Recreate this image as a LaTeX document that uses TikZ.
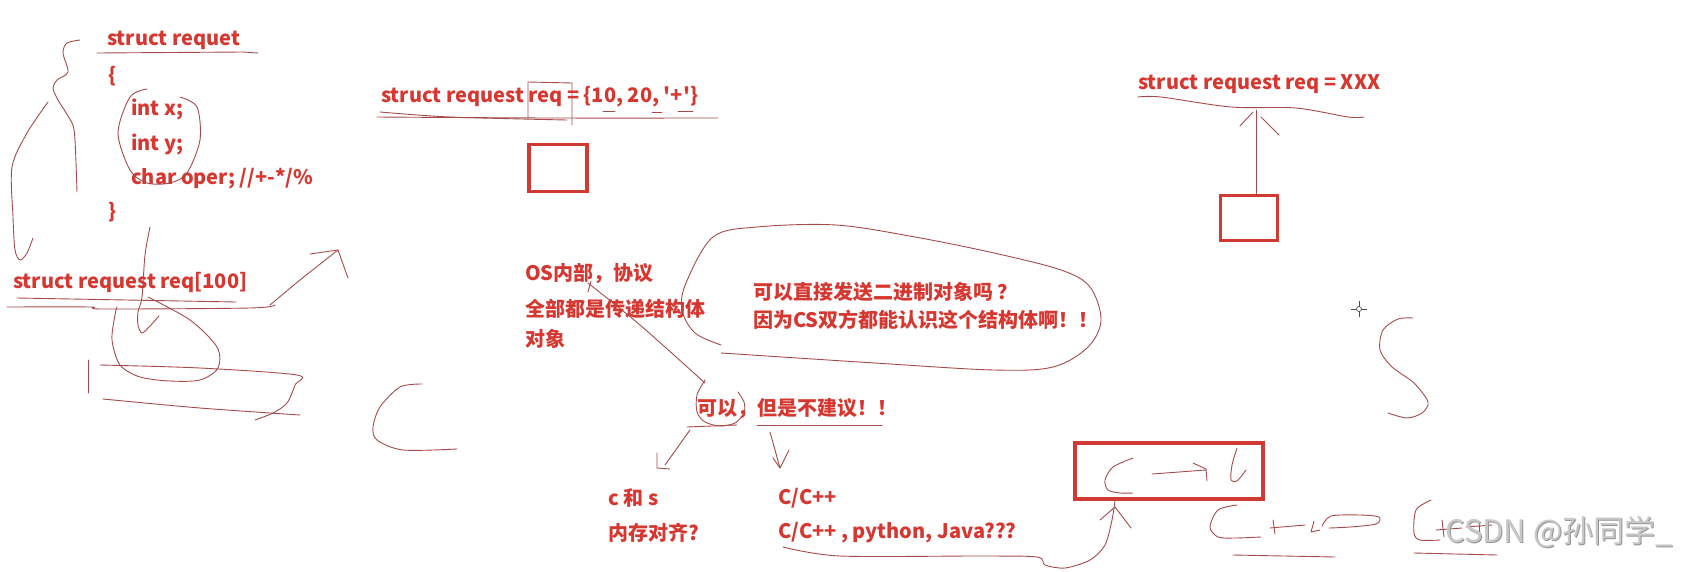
\documentclass[tikz,border=0pt]{standalone}
\usepackage{fontspec}
\setmainfont{Noto Sans CJK SC}[Ligatures=TeXOff]
\definecolor{tred}{RGB}{214,55,48}
\definecolor{inkc}{RGB}{165,75,75}
\definecolor{boxc}{RGB}{208,58,50}
\definecolor{wmc}{RGB}{200,200,200}
\definecolor{wmd}{RGB}{150,150,150}
\begin{document}
\begin{tikzpicture}[x=1pt,y=-1pt,
  txt/.style={anchor=west, inner sep=0pt, text=tred, font=\fontsize{20}{24}\selectfont\bfseries},
  wmk/.style={anchor=west, inner sep=0pt, font=\fontsize{31}{36}\selectfont},
  ink/.style={draw=inkc, line width=0.9pt, line cap=round, line join=round},
  rbox/.style={draw=boxc, line width=3.5pt, inner sep=0pt}]
\useasboundingbox[fill=white] (0,0) rectangle (1683,571);

% ---------- texts ----------
\node[txt] (t1) at (107,40) {struct requet};
\node[txt] (t2) at (108,76) {\{};
\node[txt] (t3) at (131,109) {int x;};
\node[txt] (t4) at (131,144) {int y;};
\node[txt] (t5) at (131,179) {char oper; //+-*/\%};
\node[txt] (t6) at (108,212) {\}};
\node[txt] (t7) at (13,282) {struct request req[100]};
\node[txt] (t8) at (381,97) {struct request req = \{10, 20, '+'\}};
\node[txt] (t9) at (1138,84) {struct request req = XXX};
\node[txt] (t10) at (525,273) {OS内部，协议};
\node[txt] (t11) at (525,309) {全部都是传递结构体};
\node[txt] (t12) at (525,339) {对象};
\node[txt] (t13) at (753,292) {可以直接发送二进制对象吗 ？};
\node[txt] (t14) at (753,320) {因为CS双方都能认识这个结构体啊！！};
\node[txt] (t15) at (697,408) {可以，但是不建议！！};
\node[txt] (t16) at (608,498) {c 和 s};
\node[txt] (t17) at (608,533) {内存对齐?};
\node[txt] (t18) at (778,498) {C/C++};
\node[txt] (t19) at (778,533) {C/C++ , python, Java???};

% ---------- red boxes ----------
\node[rbox, minimum width=58pt, minimum height=47pt] (b1) at (558,168) {};
\node[rbox, minimum width=57pt, minimum height=45pt] (b2) at (1249,218) {};
\node[rbox, minimum width=188pt, minimum height=56pt] (b3) at (1169,471) {};

% ---------- left strokes ----------
\draw[ink] (97,53) -- (243,52) -- (258,53);
\draw[ink] plot[smooth] coordinates {(80,40) (67,43) (63,53) (68,72) (57,80) (53,88) (58,100) (72,123) (75,140) (77,192)};
\draw[ink] plot[smooth] coordinates {(48,102) (27,133) (12,167) (13,217) (15,250) (20,260) (27,253) (33,238)};
\draw[ink] plot[smooth] coordinates {(147,89) (130,97) (118,133) (130,170) (147,183) (170,183) (187,173) (200,140) (197,107) (180,97)};
\draw[ink] plot[smooth] coordinates {(150,227) (145,255) (142,297) (138,312) (138,325) (142,333) (150,326) (159,316)};
\draw[ink] (17,298) -- (236,302);
\draw[ink] plot[smooth] coordinates {(7,307) (90,307) (103,309) (250,308) (275,305)};
\coordinate (a1) at (338,250);
\draw[ink] plot[smooth] coordinates {(270,305) (300,280) (338,250)};
\draw[ink] (310,254) -- (a1) -- (348,278);
\draw[ink] plot[smooth] coordinates {(148,297) (190,320) (217,347) (218,368) (200,380) (170,381) (140,377) (120,365) (112,340) (115,315) (117,307)};
\draw[ink] (88,360) -- (88,393);
\draw[ink] plot[smooth] coordinates {(100,365) (200,368) (297,375) (295,385) (287,403) (273,413) (255,420)};
\draw[ink] plot[smooth] coordinates {(103,399) (200,408) (300,415)};
\draw[ink] plot[smooth] coordinates {(422,384) (400,387) (380,407) (373,427) (377,440) (403,450) (457,449)};

% ---------- middle top strokes ----------
\draw[ink] (528,118) -- (528,82) -- (572,83) -- (572,125);
\draw[ink] plot[smooth] coordinates {(377,117) (550,118) (718,118)};
\draw[ink] plot[smooth] coordinates {(380,112) (450,117) (567,120)};
\draw[ink] (603,111) -- (615,111);
\draw[ink] (652,112) -- (662,112);
\draw[ink] (678,111) -- (693,111);

% ---------- middle strokes ----------
\draw[ink] (591,281) -- (588,292);
\draw[ink] plot[smooth] coordinates {(588,283) (640,325) (705,383)};
\draw[ink] plot[smooth] coordinates {(705,380) (697,395) (697,412) (705,422) (720,426) (735,423) (744,413) (744,402) (738,392)};
\draw[ink] plot[smooth, tension=0.55] coordinates {(721,353) (875,363) (994,370) (1053,367) (1088,347) (1101,320) (1090,287) (1061,270) (994,253) (915,237) (836,225) (757,227) (713,237) (686,283) (682,310) (695,333) (721,345)};
\draw[ink] (687,427) -- (737,425);
\draw[ink] (757,425) -- (882,425);
\coordinate (a2) at (665,465);
\draw[ink] (690,430) -- (a2);
\draw[ink] (657,453) -- (657,468) -- (670,469);
\coordinate (a3) at (780,468);
\draw[ink] (770,432) -- (a3);
\draw[ink] (773,458) -- (a3) -- (789,450);

% ---------- line under Java to big box ----------
\draw[ink] plot[smooth] coordinates {(783,547) (840,556) (980,556) (1037,557) (1045,565) (1065,568) (1090,560) (1105,545) (1112,520) (b3.south -| 1115,0)};
\draw[ink] (1100,520) -- (1115,507) -- (1131,528);

% ---------- inside big box ----------
\draw[ink] plot[smooth] coordinates {(1133,458) (1113,467) (1105,480) (1108,490) (1120,493) (1133,493)};
\draw[ink] (1152,474) -- (1206,470);
\draw[ink] (1193,463) -- (1206,469) -- (1207,481);
\draw[ink] plot[smooth] coordinates {(1237,448) (1232,465) (1231,480) (1237,481) (1246,470)};

% ---------- bottom right scribbles ----------
\draw[ink] plot[smooth] coordinates {(1237,505) (1218,510) (1210,527) (1218,537) (1235,538) (1261,537)};
\draw[ink] (1273,520) -- (1275,534);
\draw[ink] (1270,528) -- (1305,525);
\draw[ink] (1314,521) -- (1311,532) -- (1320,530);
\draw[ink] plot[smooth] coordinates {(1322,526) (1331,516) (1360,515) (1379,517) (1376,524) (1350,527) (1329,528)};
\draw[ink] (1233,555) -- (1335,557);
\draw[ink] plot[smooth] coordinates {(1431,500) (1416,510) (1414,533) (1420,540) (1440,540)};
\draw[ink] (1442,520) -- (1444,537);
\draw[ink] (1436,530) -- (1462,528);
\draw[ink] (1479,521) -- (1480,537);
\draw[ink] (1466,527) -- (1492,525);
\draw[ink] (1414,553) -- (1497,555);

% ---------- watermark ----------
\node[wmk, text=wmd] (wm0) at (1446,533) {CSDN @孙同学\_};
\node[wmk, text=wmc] (wm) at (1445,532) {CSDN @孙同学\_};

% ---------- S ----------
\draw[ink] plot[smooth] coordinates {(1413,318) (1398,319) (1383,330) (1380,350) (1392,367) (1414,383) (1428,402) (1422,413) (1407,418) (1388,413)};

% ---------- cursor ----------
\draw[draw=black!70, line width=0.7pt] (1351,309) -- (1367,309) (1359,301) -- (1359,317);
\draw[draw=black!70, line width=0.7pt, fill=white] (1359,309) circle (2.5pt);

% ---------- right arrow ----------
\coordinate (a4) at (1256,110);
\draw[ink] ([xshift=7pt]b2.north) -- (a4);
\draw[ink] (1240,126) -- (1253,112);
\draw[ink] (1261,117) -- (1279,135);
\draw[ink] plot[smooth] coordinates {(1138,97) (1161,97) (1231,107) (1296,108) (1348,117) (1364,117)};
\end{tikzpicture}
\end{document}
